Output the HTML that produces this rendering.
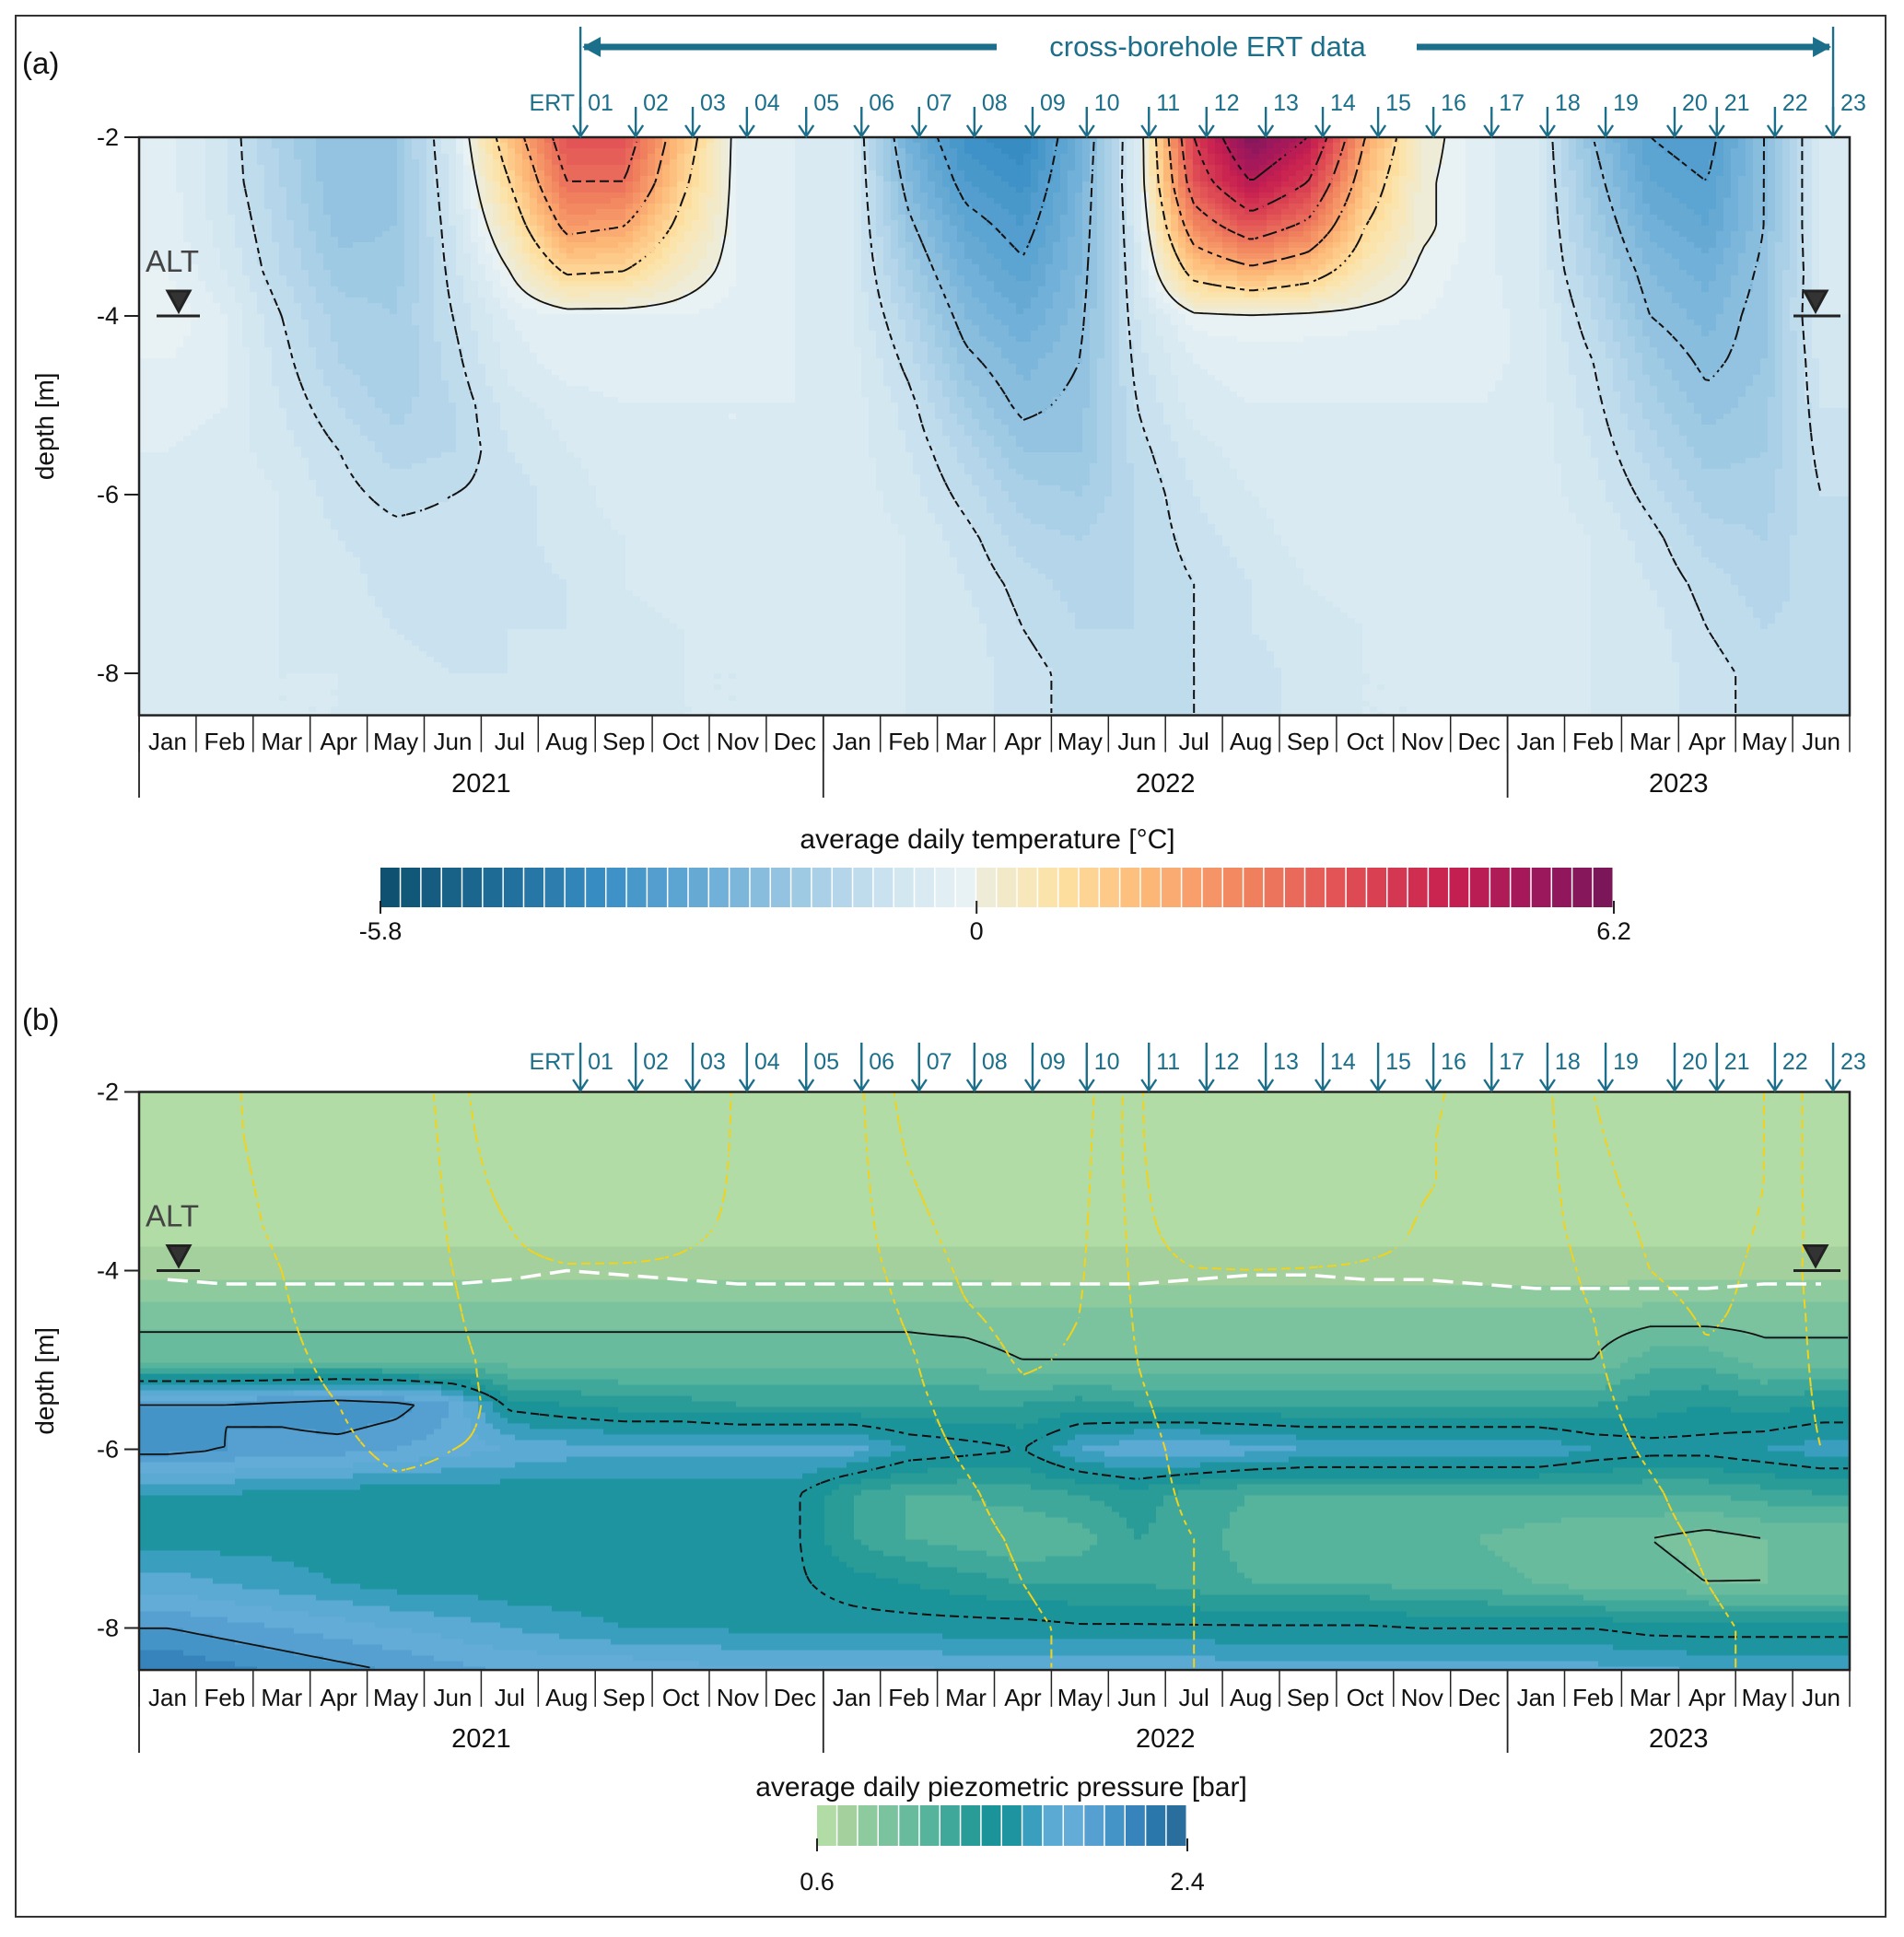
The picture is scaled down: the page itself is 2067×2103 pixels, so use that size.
<!DOCTYPE html>
<html><head><meta charset="utf-8"><style>
body{margin:0;background:#fff}
svg{display:block;font-family:"Liberation Sans",sans-serif}
</style></head><body>
<svg id="fig" width="2067" height="2103" viewBox="0 0 2067 2103" xmlns="http://www.w3.org/2000/svg">
<rect x="17" y="17" width="2030" height="2064" fill="#fff" stroke="#333" stroke-width="2"/>
<g id="root"></g>
</svg>
<script>
// ---------- data ----------
const monthLabels=["Jan","Feb","Mar","Apr","May","Jun","Jul","Aug","Sep","Oct","Nov","Dec","Jan","Feb","Mar","Apr","May","Jun","Jul","Aug","Sep","Oct","Nov","Dec","Jan","Feb","Mar","Apr","May","Jun"];
const yearLabels=["2021","2022","2023"];
const yearStarts=[0,12,24];
const yearEnds=[12,24,30];
const depthTicks=[-2,-4,-6,-8];
const gridDepths=[-2,-2.5,-3,-3.5,-4,-4.5,-5,-5.5,-6,-6.5,-7,-7.5,-8,-8.5];
const ertLabels=["01","02","03","04","05","06","07","08","09","10","11","12","13","14","15","16","17","18","19","20","21","22","23"];
const ertMonths=[7.74,8.71,9.71,10.66,11.70,12.67,13.68,14.65,15.67,16.62,17.71,18.72,19.76,20.76,21.73,22.70,23.72,24.70,25.72,26.93,27.67,28.69,29.71];
const tempGrid=[
[-0.3,-0.8,-1.5,-2.0,-1.8,-0.6,1.5,3.5,3.5,1.5,-0.2,-0.4,-0.6,-2.5,-3.5,-3.8,-2.5,-0.5,4.0,6.0,5.0,2.0,0.2,-0.3,-0.6,-2.0,-3.0,-3.2,-2.0,-0.5],
[-0.3,-0.8,-1.4,-2.0,-1.8,-0.7,1.0,3.0,3.0,1.2,-0.2,-0.4,-0.6,-2.2,-3.2,-3.5,-2.4,-0.5,3.5,5.0,4.0,1.5,0.1,-0.3,-0.6,-1.8,-2.8,-3.0,-2.0,-0.5],
[-0.3,-0.7,-1.3,-1.9,-1.8,-0.8,0.5,2.2,2.0,0.8,-0.2,-0.4,-0.6,-1.9,-2.8,-3.2,-2.3,-0.6,2.5,3.5,2.8,1.0,0.1,-0.3,-0.6,-1.6,-2.5,-2.8,-2.0,-0.5],
[-0.2,-0.6,-1.2,-1.7,-1.7,-0.9,0.0,1.1,1.0,0.3,-0.2,-0.4,-0.6,-1.6,-2.5,-2.9,-2.2,-0.7,1.3,1.8,1.4,0.5,-0.1,-0.3,-0.6,-1.4,-2.2,-2.5,-1.9,-0.6],
[0.0,-0.4,-1.0,-1.5,-1.6,-1.0,-0.4,-0.2,-0.2,-0.2,-0.3,-0.4,-0.6,-1.3,-2.2,-2.6,-2.1,-0.8,-0.1,-0.05,-0.1,-0.15,-0.2,-0.3,-0.5,-1.2,-2.0,-2.3,-1.8,-0.6],
[-0.2,-0.4,-0.9,-1.4,-1.6,-1.1,-0.5,-0.3,-0.3,-0.3,-0.3,-0.4,-0.5,-1.1,-1.9,-2.3,-2.0,-0.9,-0.4,-0.3,-0.3,-0.3,-0.3,-0.3,-0.5,-1.0,-1.7,-2.1,-1.8,-0.7],
[-0.3,-0.4,-0.8,-1.2,-1.5,-1.2,-0.7,-0.5,-0.4,-0.4,-0.4,-0.4,-0.5,-0.9,-1.6,-2.1,-1.9,-1.0,-0.5,-0.4,-0.4,-0.4,-0.4,-0.4,-0.5,-0.9,-1.5,-1.9,-1.7,-0.8],
[-0.4,-0.5,-0.7,-1.0,-1.3,-1.2,-0.8,-0.6,-0.5,-0.4,-0.4,-0.4,-0.5,-0.8,-1.3,-1.8,-1.8,-1.1,-0.7,-0.5,-0.4,-0.4,-0.4,-0.5,-0.5,-0.8,-1.3,-1.7,-1.6,-0.9],
[-0.5,-0.5,-0.6,-0.9,-1.1,-1.0,-0.9,-0.7,-0.5,-0.4,-0.4,-0.4,-0.5,-0.7,-1.1,-1.5,-1.6,-1.2,-0.8,-0.6,-0.5,-0.4,-0.4,-0.5,-0.5,-0.7,-1.1,-1.5,-1.5,-1.0],
[-0.5,-0.5,-0.6,-0.8,-0.9,-0.9,-0.9,-0.7,-0.6,-0.5,-0.4,-0.4,-0.5,-0.6,-0.9,-1.3,-1.4,-1.2,-0.9,-0.7,-0.5,-0.5,-0.5,-0.5,-0.5,-0.6,-0.9,-1.3,-1.4,-1.0],
[-0.5,-0.5,-0.6,-0.7,-0.9,-0.9,-0.9,-0.8,-0.6,-0.5,-0.5,-0.5,-0.5,-0.6,-0.8,-1.1,-1.3,-1.2,-1.0,-0.8,-0.6,-0.5,-0.5,-0.5,-0.5,-0.6,-0.8,-1.1,-1.3,-1.1],
[-0.5,-0.5,-0.6,-0.7,-0.8,-0.9,-0.8,-0.8,-0.7,-0.6,-0.5,-0.5,-0.5,-0.6,-0.7,-1.0,-1.2,-1.2,-1.0,-0.8,-0.7,-0.6,-0.5,-0.5,-0.5,-0.6,-0.7,-1.0,-1.2,-1.1],
[-0.5,-0.5,-0.6,-0.6,-0.7,-0.8,-0.8,-0.8,-0.7,-0.6,-0.6,-0.5,-0.5,-0.6,-0.7,-0.9,-1.1,-1.1,-1.0,-0.9,-0.7,-0.6,-0.6,-0.5,-0.5,-0.6,-0.7,-0.9,-1.1,-1.1],
[-0.5,-0.5,-0.6,-0.6,-0.7,-0.8,-0.8,-0.8,-0.7,-0.6,-0.6,-0.5,-0.5,-0.6,-0.7,-0.9,-1.1,-1.1,-1.0,-0.9,-0.7,-0.6,-0.6,-0.5,-0.5,-0.6,-0.7,-0.9,-1.1,-1.1]
];
const presGrid=[
[0.65,0.65,0.65,0.65,0.65,0.65,0.65,0.65,0.65,0.65,0.65,0.65,0.65,0.65,0.65,0.65,0.65,0.65,0.65,0.65,0.65,0.65,0.65,0.65,0.65,0.65,0.65,0.65,0.65,0.65],
[0.65,0.65,0.65,0.65,0.65,0.65,0.65,0.65,0.65,0.65,0.65,0.65,0.65,0.65,0.65,0.65,0.65,0.65,0.65,0.65,0.65,0.65,0.65,0.65,0.65,0.65,0.65,0.65,0.65,0.65],
[0.65,0.65,0.65,0.65,0.65,0.65,0.65,0.65,0.65,0.65,0.65,0.65,0.65,0.65,0.65,0.65,0.65,0.65,0.65,0.65,0.65,0.65,0.65,0.65,0.65,0.65,0.65,0.65,0.65,0.65],
[0.66,0.66,0.66,0.66,0.66,0.66,0.66,0.66,0.66,0.66,0.66,0.66,0.66,0.66,0.66,0.66,0.66,0.66,0.66,0.66,0.66,0.66,0.66,0.66,0.66,0.66,0.66,0.66,0.66,0.66],
[0.75,0.75,0.75,0.75,0.75,0.75,0.75,0.75,0.75,0.75,0.75,0.75,0.75,0.75,0.75,0.75,0.75,0.75,0.75,0.75,0.75,0.75,0.75,0.75,0.75,0.75,0.75,0.75,0.75,0.75],
[0.97,0.97,0.97,0.97,0.97,0.97,0.97,0.97,0.97,0.97,0.97,0.97,0.97,0.97,0.95,0.92,0.92,0.92,0.92,0.92,0.92,0.92,0.92,0.92,0.92,0.92,0.95,0.95,0.95,0.95],
[1.05,1.05,1.05,1.05,1.05,1.05,1.05,1.05,1.05,1.05,1.05,1.05,1.05,1.05,1.05,1.0,1.0,1.0,1.0,1.0,1.0,1.0,1.0,1.0,1.0,1.0,1.15,1.15,1.05,1.05],
[2.0,2.0,2.05,2.1,2.05,1.9,1.45,1.4,1.35,1.35,1.3,1.3,1.3,1.3,1.3,1.3,1.35,1.3,1.3,1.3,1.3,1.3,1.3,1.3,1.3,1.3,1.35,1.4,1.35,1.4],
[2.05,2.0,1.95,1.95,1.9,1.85,1.8,1.75,1.75,1.75,1.75,1.75,1.75,1.6,1.55,1.5,1.7,1.8,1.8,1.75,1.7,1.7,1.7,1.7,1.7,1.6,1.55,1.55,1.6,1.65],
[1.6,1.6,1.55,1.55,1.52,1.52,1.52,1.52,1.52,1.52,1.52,1.52,1.3,1.2,1.2,1.25,1.3,1.35,1.25,1.2,1.2,1.2,1.2,1.2,1.2,1.2,1.2,1.2,1.25,1.3],
[1.55,1.55,1.55,1.52,1.52,1.52,1.52,1.52,1.52,1.52,1.52,1.52,1.3,1.2,1.15,1.1,1.15,1.3,1.25,1.15,1.1,1.1,1.1,1.1,1.05,1.0,1.0,0.95,1.0,1.0],
[1.75,1.7,1.65,1.6,1.55,1.55,1.52,1.52,1.52,1.52,1.52,1.52,1.45,1.4,1.35,1.3,1.3,1.3,1.25,1.2,1.2,1.2,1.15,1.15,1.1,1.05,1.05,1.0,1.0,1.0],
[2.0,1.95,1.9,1.85,1.8,1.75,1.7,1.65,1.6,1.6,1.58,1.55,1.55,1.55,1.55,1.55,1.52,1.52,1.52,1.52,1.52,1.52,1.5,1.5,1.5,1.5,1.45,1.45,1.45,1.45],
[2.2,2.15,2.1,2.05,2.0,1.95,1.9,1.9,1.9,1.85,1.85,1.85,1.85,1.85,1.8,1.8,1.8,1.8,1.8,1.75,1.75,1.75,1.75,1.75,1.75,1.75,1.75,1.7,1.7,1.7]
];
const altDepths=[-4.1,-4.15,-4.15,-4.15,-4.15,-4.15,-4.1,-4.0,-4.05,-4.1,-4.15,-4.15,-4.15,-4.15,-4.15,-4.15,-4.15,-4.15,-4.1,-4.05,-4.05,-4.1,-4.1,-4.15,-4.2,-4.2,-4.2,-4.2,-4.15,-4.15];
const tempContours=[-3,-2,-1,0,1,2,3,4,5];
const presContours=[1,1.5,2];
const presColors=["#b2dca6","#a3d09c","#8dca9e","#7bc39f","#69bb9e","#56b39c","#40a89a","#2a9c98","#1a9399","#1e94a0","#3a9fbf","#5aaad3","#64acd8","#55a0d0","#4494c8","#3684bb","#2a78ab","#2a6e9e"];
const tempAnchorVals=[-5.8,-4.6,-3.6,-2.6,-1.6,-0.8,-0.1,0.1,0.8,1.6,2.6,3.6,4.6,5.4,6.2];
const tempAnchorCols=["#0d4f6e","#1f6d98","#3a8fc5","#6badd6","#a5cde6","#cfe5f1","#e8f1f4","#eeecd6","#fde3a5","#fdbb78","#f2845f","#e04f55","#c8204f","#a0185c","#761658"];

// ---------- helpers ----------
const NS="http://www.w3.org/2000/svg";
const root=document.getElementById('root');
function el(tag,attrs,parent){const e=document.createElementNS(NS,tag);for(const k in attrs)e.setAttribute(k,attrs[k]);(parent||root).appendChild(e);return e;}
function txt(s,attrs,parent){const e=el('text',attrs,parent);e.textContent=s;return e;}
const X0=151,X1=2008,MW=(X1-X0)/30;
function xM(m){return X0+m*MW;}
function yA(d){return 149+(-2-d)*97;}
function yB(d){return 1185.5+(-2-d)*97;}
const DMIN=-8.47;
function hex(c){return [parseInt(c.slice(1,3),16),parseInt(c.slice(3,5),16),parseInt(c.slice(5,7),16)];}
function tempColor(v){
  let b=Math.floor((v+5.8)/0.2);b=Math.max(0,Math.min(59,b));const vc=-5.8+(b+0.5)*0.2;
  let i=0;while(i<tempAnchorVals.length-2&&vc>tempAnchorVals[i+1])i++;
  const t=Math.max(0,Math.min(1,(vc-tempAnchorVals[i])/(tempAnchorVals[i+1]-tempAnchorVals[i])));
  const a=hex(tempAnchorCols[i]),c=hex(tempAnchorCols[i+1]);
  return 'rgb('+a.map((x,k)=>Math.round(x+(c[k]-x)*t)).join(',')+')';
}
function presColor(v){let b=Math.floor((v-0.6)/0.1+1e-9);b=Math.max(0,Math.min(17,b));return presColors[b];}
function sample(grid,m,d){
  let c=Math.max(0,Math.min(29,m-0.5));let r=Math.max(0,Math.min(13,(-2-d)/0.5));
  const c0=Math.min(28,Math.floor(c)),r0=Math.min(12,Math.floor(r));const fc=c-c0,fr=r-r0;
  return grid[r0][c0]*(1-fc)*(1-fr)+grid[r0][c0+1]*fc*(1-fr)+grid[r0+1][c0]*(1-fc)*fr+grid[r0+1][c0+1]*fc*fr;
}
const SX=8,SY=6;
function heatmap(grid,yF,colorF,name){
  const g=el('g',{});
  
  
  const top=yF(-2),bot=yF(DMIN);
  for(let y=top;y<bot;y+=SY){
    const h=Math.min(SY,bot-y);
    const d=-2-((y+h/2-top)/97);
    let runStart=X0,runCol=null;
    for(let x=X0;x<=X1;x+=SX){
      const w=Math.min(SX,X1-x);
      let col=null;
      if(w>0){const m=(x+w/2-X0)/MW;col=colorF(sample(grid,m,d));}
      if(col!==runCol){
        if(runCol){const r=el('rect',{x:runStart,y:y,width:x-runStart+0.6,height:h+0.6,fill:runCol},g);
          
          }
        runStart=x;runCol=col;
      }
      if(w<=0)break;
    }
    if(runCol){const r=el('rect',{x:runStart,y:y,width:X1-runStart,height:h+0.6,fill:runCol},g);
      
      }
  }
}
function contour(grid,yF,level,stroke,dash,name){
  const top=yF(-2),bot=yF(DMIN);const cs=5;
  const xs=[],ys=[];for(let x=X0;x<=X1+0.01;x+=cs)xs.push(x);for(let y=top;y<=bot+0.01;y+=cs)ys.push(y);
  const V=ys.map(y=>xs.map(x=>sample(grid,(x-X0)/MW,-2-(y-top)/97)));
  let p='';
  for(let j=0;j<ys.length-1;j++)for(let i=0;i<xs.length-1;i++){
    if(dash&&((i+j)%3===0))continue;
    const a=V[j][i],b=V[j][i+1],c=V[j+1][i+1],d=V[j+1][i];const pts=[];
    function e(v1,v2,x1,y1,x2,y2){if((v1-level)*(v2-level)<0){const t=(level-v1)/(v2-v1);pts.push([x1+(x2-x1)*t,y1+(y2-y1)*t]);}}
    e(a,b,xs[i],ys[j],xs[i+1],ys[j]);e(b,c,xs[i+1],ys[j],xs[i+1],ys[j+1]);e(c,d,xs[i+1],ys[j+1],xs[i],ys[j+1]);e(d,a,xs[i],ys[j+1],xs[i],ys[j]);
    for(let k=0;k+1<pts.length;k+=2)p+='M'+pts[k][0].toFixed(1)+' '+pts[k][1].toFixed(1)+'L'+pts[k+1][0].toFixed(1)+' '+pts[k+1][1].toFixed(1);
  }
  const path=el('path',{d:p,fill:'none',stroke:stroke,'stroke-width':dash?2:1.8,'stroke-linecap':'butt'});
  
  
}
const TEAL="#1b6f8a";
function ertArrows(yLab,yTop,yBot,name){
  const g=el('g',{});
  
  
  const l=txt('ERT',{x:xM(ertMonths[0])-6,y:yLab,'font-size':25,fill:TEAL,'text-anchor':'end'},g);
  
  
  ertMonths.forEach((m,i)=>{
    const x=xM(m);
    const a=el('path',{d:`M${x} ${yTop}V${yBot-1}M${x-8} ${yBot-13}L${x} ${yBot-1}L${x+8} ${yBot-13}`,fill:'none',stroke:TEAL,'stroke-width':2.4},g);
    
    
    const t=txt(ertLabels[i],{x:x+8,y:yLab,'font-size':25,fill:TEAL},g);
    
    
  });
}
function axes(yF,yMonth,yYear,yearLineEnd,prefix){
  const top=yF(-2),bot=yF(DMIN);
  const fr=el('rect',{x:X0,y:top,width:X1-X0,height:bot-top,fill:'none',stroke:'#222','stroke-width':2.5});
  
  
  depthTicks.forEach(d=>{
    const y=yF(d);
    el('line',{x1:X0-16,x2:X0,y1:y,y2:y,stroke:'#222','stroke-width':2});
    const t=txt(String(d),{x:X0-22,y:y+9,'font-size':27,'text-anchor':'end',fill:'#111'});
    
    
  });
  for(let m=0;m<=30;m++){
    const x=xM(m);
    el('line',{x1:x,x2:x,y1:bot,y2:bot+40,stroke:'#222','stroke-width':1.5});
  }
  monthLabels.forEach((s,m)=>{
    const t=txt(s,{x:xM(m+0.5),y:yMonth,'font-size':26,'text-anchor':'middle',fill:'#111'});
    
    
  });
  yearStarts.forEach((s,i)=>{
    el('line',{x1:xM(s),x2:xM(s),y1:bot,y2:yearLineEnd,stroke:'#222','stroke-width':1.8});
    const t=txt(yearLabels[i],{x:xM((s+yearEnds[i])/2),y:yYear,'font-size':29,'text-anchor':'middle',fill:'#111'});
    
    
  });
  const yl=txt('depth [m]',{x:0,y:0,'font-size':28,'text-anchor':'middle',fill:'#111',transform:`translate(58 ${(top+bot)/2}) rotate(-90)`});
  
  
}
function altMarker(yF,prefix){
  const y=yF(-4);
  const t=txt('ALT',{x:158,y:y-48,'font-size':33,fill:'#444'});
  
  
  [[194,170,217],[1971,1947,1998]].forEach(([cx,a,b],i)=>{
    const m=el('path',{d:`M${cx-12} ${y-27}L${cx+12} ${y-27}L${cx} ${y-5}Z M${a} ${y}H${b}`,fill:'#333',stroke:'#222','stroke-width':3});
    
    
  });
}

// ---------- panel a ----------
heatmap(tempGrid,yA,tempColor,'temperature-heatmap');
tempContours.forEach(l=>contour(tempGrid,yA,l,'#111',l!==0,'temp-contour-'+l));
axes(yA,814,860,866,'a');
altMarker(yA,'a');
ertArrows(120,116,149,'a-ert-arrows');
(function(){
  const g=el('g',{});
  
  
  const xa=xM(ertMonths[0]),xb=xM(ertMonths[ertMonths.length-1]);
  el('path',{d:`M${xa} 29V149M${xb} 29V149`,stroke:TEAL,'stroke-width':2.4},g);
  el('path',{d:`M${xa+4} 51H1082M1538 51H${xb-4}`,stroke:TEAL,'stroke-width':7},g);
  el('path',{d:`M${xa+2} 51L${xa+22} 40L${xa+22} 62Z M${xb-2} 51L${xb-22} 40L${xb-22} 62Z`,fill:TEAL},g);
  const t=txt('cross-borehole ERT data',{x:1311,y:61,'font-size':31,'text-anchor':'middle',fill:TEAL},g);
  
  
})();
{const t=txt('(a)',{x:24,y:80,'font-size':33,fill:'#111'});

}

// colorbar a
(function(){
  const g=el('g',{});
  
  
  const x0=413,x1=1752,w=(x1-x0)/60;
  for(let i=0;i<60;i++){
    const r=el('rect',{x:x0+i*w,y:942,width:w-1.5,height:43,fill:tempColor(-5.8+(i+0.5)*0.2)},g);
    
    
  }
  const tk=[[-5.8,'-5.8'],[0,'0'],[6.2,'6.2']];
  tk.forEach(([v,s])=>{const x=x0+(v+5.8)/12*(x1-x0);el('line',{x1:x,x2:x,y1:978,y2:992,stroke:'#222','stroke-width':2},g);
    const t=txt(s,{x:x,y:1020,'font-size':27,'text-anchor':'middle',fill:'#111'},g);
    
    });
  const t=txt('average daily temperature [°C]',{x:1072,y:921,'font-size':30,'text-anchor':'middle',fill:'#111'},g);
  
  
})();

// ---------- panel b ----------
heatmap(presGrid,yB,presColor,'pressure-heatmap');
presContours.forEach(l=>contour(presGrid,yB,l,'#111',l===1.5,'pressure-contour-'+l));
[-2,-1,0].forEach(l=>contour(tempGrid,yB,l,'#f2d21a',true,'b-temp-contour-'+l));
(function(){
  let p='';altDepths.forEach((d,m)=>{p+=(m?'L':'M')+xM(m+0.5).toFixed(1)+' '+yB(d).toFixed(1);});
  const path=el('path',{d:p,fill:'none',stroke:'#fff','stroke-width':3.5,'stroke-dasharray':'22 10'});
  
  
})();
axes(yB,1852,1897,1903,'b');
altMarker(yB,'b');
ertArrows(1161,1132,1185,'b-ert-arrows');
{const t=txt('(b)',{x:24,y:1118,'font-size':33,fill:'#111'});

}
(function(){
  const g=el('g',{});
  
  
  const x0=887,x1=1289,w=(x1-x0)/18;
  for(let i=0;i<18;i++){
    const r=el('rect',{x:x0+i*w,y:1960,width:w-1.5,height:44,fill:presColors[i]},g);
    
    
  }
  [[0.6,'0.6'],[2.4,'2.4']].forEach(([v,s])=>{const x=x0+(v-0.6)/1.8*(x1-x0);el('line',{x1:x,x2:x,y1:1996,y2:2010,stroke:'#222','stroke-width':2},g);
    const t=txt(s,{x:x,y:2052,'font-size':27,'text-anchor':'middle',fill:'#111'},g);
    
    });
  const t=txt('average daily piezometric pressure [bar]',{x:1087,y:1950,'font-size':30,'text-anchor':'middle',fill:'#111'},g);
  
  
})();
</script>
</body></html>
